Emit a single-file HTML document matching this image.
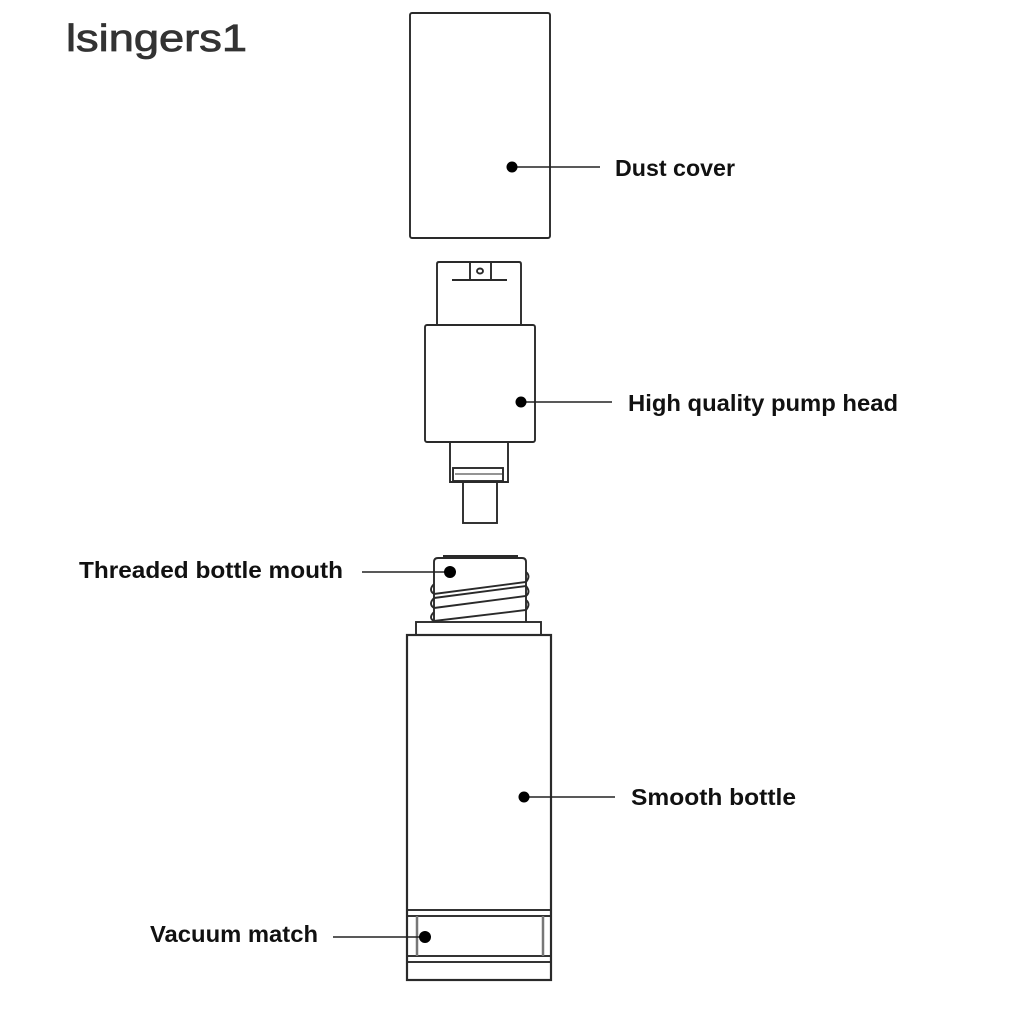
<!DOCTYPE html>
<html><head><style>html,body{margin:0;padding:0;background:#fff}svg{display:block}</style></head>
<body>
<svg width="1024" height="1024" viewBox="0 0 1024 1024" xmlns="http://www.w3.org/2000/svg">
<rect width="1024" height="1024" fill="#fff"/>
<text x="66" y="51" font-family="Liberation Sans, sans-serif" font-size="38" fill="#333" stroke="#333" stroke-width="0.8" textLength="181" lengthAdjust="spacingAndGlyphs">lsingers1</text>
<g fill="none" stroke="#2a2a2a" stroke-width="1.9">
<rect x="410" y="13" width="140" height="225" rx="2"/>
<path d="M437 325 V264 Q437 262 439 262 H519 Q521 262 521 264 V325"/>
<path d="M470 262 V280 M491 262 V280 M452 280 H507"/>
<ellipse cx="480" cy="271" rx="3" ry="2.5"/>
<rect x="425" y="325" width="110" height="117" rx="2"/>
<path d="M450 442 V482 H508 V442"/>
<rect x="453" y="468" width="50" height="13"/>
<line x1="455" y1="474" x2="502" y2="474" stroke-width="1"/>
<rect x="463" y="482" width="34" height="41"/>
<path d="M434 622 V562 Q434 558 438 558 H522 Q526 558 526 562 V622"/>
<line x1="443" y1="556" x2="518" y2="556"/>
<path d="M434 584 Q428 590 434 594 L526 582 Q531 576 526 572"/>
<path d="M434 598 L526 586 Q531 592 526 596 L434 608"/>
<path d="M434 598 Q428 604 434 608"/>
<path d="M434 612 Q428 618 434 621 L526 610 Q531 604 526 600"/>
<rect x="416" y="622" width="125" height="13"/>
<rect x="407" y="635" width="144" height="345" stroke-width="2.2"/>
<rect x="407" y="910" width="144" height="6"/>
<rect x="407" y="956" width="144" height="6"/>
<line x1="417" y1="916" x2="417" y2="956" stroke-width="2.5" stroke="#777"/>
<line x1="543" y1="916" x2="543" y2="956" stroke-width="2.5" stroke="#777"/>
</g>
<g stroke="#222" stroke-width="1.5">
<line x1="512" y1="167" x2="600" y2="167"/>
<line x1="521" y1="402" x2="612" y2="402"/>
<line x1="362" y1="572" x2="450" y2="572"/>
<line x1="524" y1="797" x2="615" y2="797"/>
<line x1="333" y1="937" x2="425" y2="937"/>
</g>
<g fill="#000">
<circle cx="512" cy="167" r="5.5"/>
<circle cx="521" cy="402" r="5.5"/>
<circle cx="450" cy="572" r="6"/>
<circle cx="524" cy="797" r="5.5"/>
<circle cx="425" cy="937" r="6"/>
</g>
<g font-family="Liberation Sans, sans-serif" font-weight="bold" font-size="23" fill="#111">
<text x="615" y="176" textLength="120" lengthAdjust="spacingAndGlyphs">Dust cover</text>
<text x="628" y="411" textLength="270" lengthAdjust="spacingAndGlyphs">High quality pump head</text>
<text x="79" y="578" textLength="264" lengthAdjust="spacingAndGlyphs">Threaded bottle mouth</text>
<text x="631" y="805" textLength="165" lengthAdjust="spacingAndGlyphs">Smooth bottle</text>
<text x="150" y="942" textLength="168" lengthAdjust="spacingAndGlyphs">Vacuum match</text>
</g>
</svg>
</body></html>
